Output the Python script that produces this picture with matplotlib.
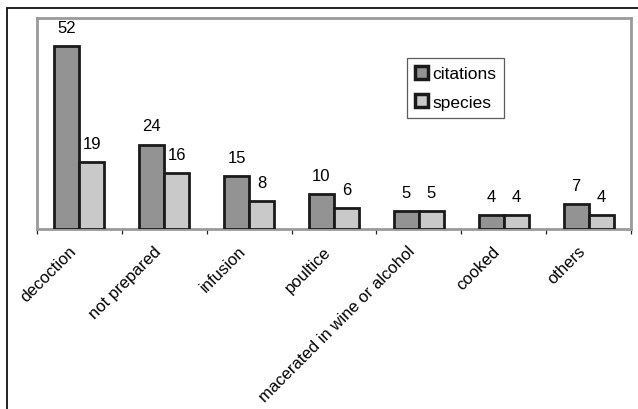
import numpy as np
import matplotlib.pyplot as plt
import matplotlib.transforms as mtransforms
from matplotlib.patches import Patch, Rectangle

plt.rcParams['font.family'] = ['Liberation Sans', 'DejaVu Sans']

# data
categories = ["decoction", "not prepared", "infusion", "poultice",
              "macerated in wine or alcohol", "cooked", "others"]
citations = [52, 24, 15, 10, 5, 4, 7]
species = [19, 16, 8, 6, 5, 4, 4]

dark = "#939393"
light = "#c9c9c9"
edge = "#1a1a1a"

fig = plt.figure(figsize=(6.38, 4.10), dpi=100)
ax = fig.add_axes([37/638, 180/410, 594/638, 211/410])

x = np.arange(len(categories))
w = 0.295
b1 = ax.bar(x - w/2, citations, w, color=dark, edgecolor=edge, linewidth=2, zorder=3)
b2 = ax.bar(x + w/2, species, w, color=light, edgecolor=edge, linewidth=2, zorder=3)

# value labels over the bars
for bars, vals in [(b1, citations), (b2, species)]:
    for r, v in zip(bars, vals):
        ax.annotate(str(v), (r.get_x() + r.get_width()/2, r.get_height()),
                    xytext=(0, 8), textcoords="offset points",
                    ha="center", va="bottom", fontsize=12)

ax.set_xlim(-0.5, len(categories) - 0.5)
ax.set_ylim(0, 60)
ax.set_yticks([])

# labels at category centres, tick marks between categories
ax.set_xticks(x)
ax.set_xticklabels(categories, rotation=45, ha="right", va="center",
                   rotation_mode="anchor", fontsize=12)
ax.tick_params(axis="x", which="major", length=0, pad=14)
shift = mtransforms.ScaledTranslation(-6/100, 0, fig.dpi_scale_trans)
for lab in ax.get_xticklabels():
    lab.set_transform(lab.get_transform() + shift)
ax.set_xticks(np.arange(-0.5, len(categories)), minor=True)
ax.tick_params(axis="x", which="minor", length=3.5, width=0.9, color="#222222",
               direction="out")

for s in ax.spines.values():
    s.set_color("#9a9a9a")
    s.set_linewidth(2)

handles = [Patch(facecolor=dark, edgecolor=edge, linewidth=2.5, label="citations"),
           Patch(facecolor=light, edgecolor=edge, linewidth=2.5, label="species")]
leg = ax.legend(handles=handles, loc="upper left", bbox_to_anchor=(0.623, 0.81),
                borderaxespad=0, fontsize=12.5, frameon=True, fancybox=False,
                handlelength=0.75, handleheight=0.75, handletextpad=0.25,
                labelspacing=0.75, borderpad=0.45)
leg.get_frame().set_edgecolor("#333333")
leg.get_frame().set_linewidth(0.9)

# outer frame (only left and top edges visible)
fig.patches.append(Rectangle((7/638, -0.2), 1.5, 1.2 - 9/410,
                             transform=fig.transFigure, fill=False,
                             edgecolor="#111111", linewidth=1.3))

fig.savefig("out.png", dpi=100)
